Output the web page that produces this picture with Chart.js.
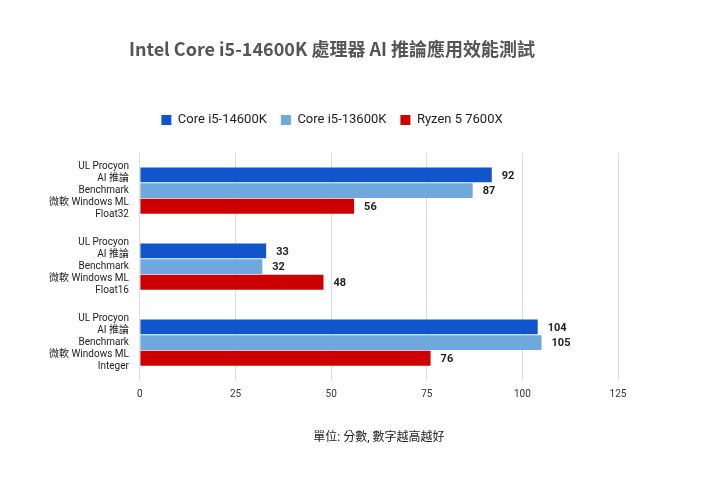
<!DOCTYPE html><html><head><meta charset="utf-8">
<script src="https://cdn.jsdelivr.net/npm/chart.js@4"></script>
<style>body{margin:0;background:#fff}#w{width:720px;height:487px}</style></head><body>
<div id="w"><canvas id="c"></canvas></div>
<script>
const categories=[["UL Procyon","AI 推論","Benchmark","微軟 Windows ML","Float32"],["UL Procyon","AI 推論","Benchmark","微軟 Windows ML","Float16"],["UL Procyon","AI 推論","Benchmark","微軟 Windows ML","Integer"]];
const seriesNames=["Core i5-14600K","Core i5-13600K","Ryzen 5 7600X"];
const i14600k=[92,33,104];
const i13600k=[87,32,105];
const r7600x=[56,48,76];
const colors=["#1155cc","#6fa8dc","#cc0000"];
const F="Roboto, 'Noto Sans CJK TC', sans-serif";
const valueLabels={id:'vl',afterDatasetsDraw(ch){const x=ch.ctx;x.save();x.font="bold 11px "+F;x.fillStyle="#222";x.textBaseline="middle";
ch.data.datasets.forEach((d,i)=>{ch.getDatasetMeta(i).data.forEach((b,j)=>{x.fillText(d.data[j],b.x+10,b.y+1);});});x.restore();}};
const legendPad={id:'lp',beforeInit(ch){const o=ch.legend.fit;ch.legend.fit=function(){o.call(this);this.height+=16;};}};
new Chart(document.getElementById('c'),{type:'bar',
data:{labels:categories,datasets:[i14600k,i13600k,r7600x].map((d,i)=>({label:seriesNames[i],data:d,backgroundColor:colors[i],categoryPercentage:0.62,barPercentage:0.95}))},
options:{indexAxis:'y',responsive:true,maintainAspectRatio:false,animation:false,
layout:{padding:{left:46,right:102,top:10,bottom:38}},
plugins:{title:{display:true,text:"Intel Core i5-14600K 處理器 AI 推論應用效能測試",color:"#555",font:{family:"'Noto Sans CJK TC', sans-serif",size:18,weight:'bold'},padding:{top:28,bottom:40}},
legend:{position:'top',labels:{boxWidth:10,boxHeight:10,color:"#222",font:{family:F,size:13},padding:14}}},
scales:{x:{min:0,max:125,ticks:{stepSize:25,color:"#333",font:{family:F,size:10},padding:8},grid:{color:"#ddd",drawTicks:false},border:{display:false},
title:{display:true,text:"單位: 分數, 數字越高越好",color:"#222",font:{family:F,size:12},padding:{top:22}}},
y:{ticks:{color:"#222",font:{family:F,size:10,lineHeight:1.2},autoSkip:false},grid:{display:false},border:{display:false}}}},
plugins:[valueLabels,legendPad]});
</script></body></html>
